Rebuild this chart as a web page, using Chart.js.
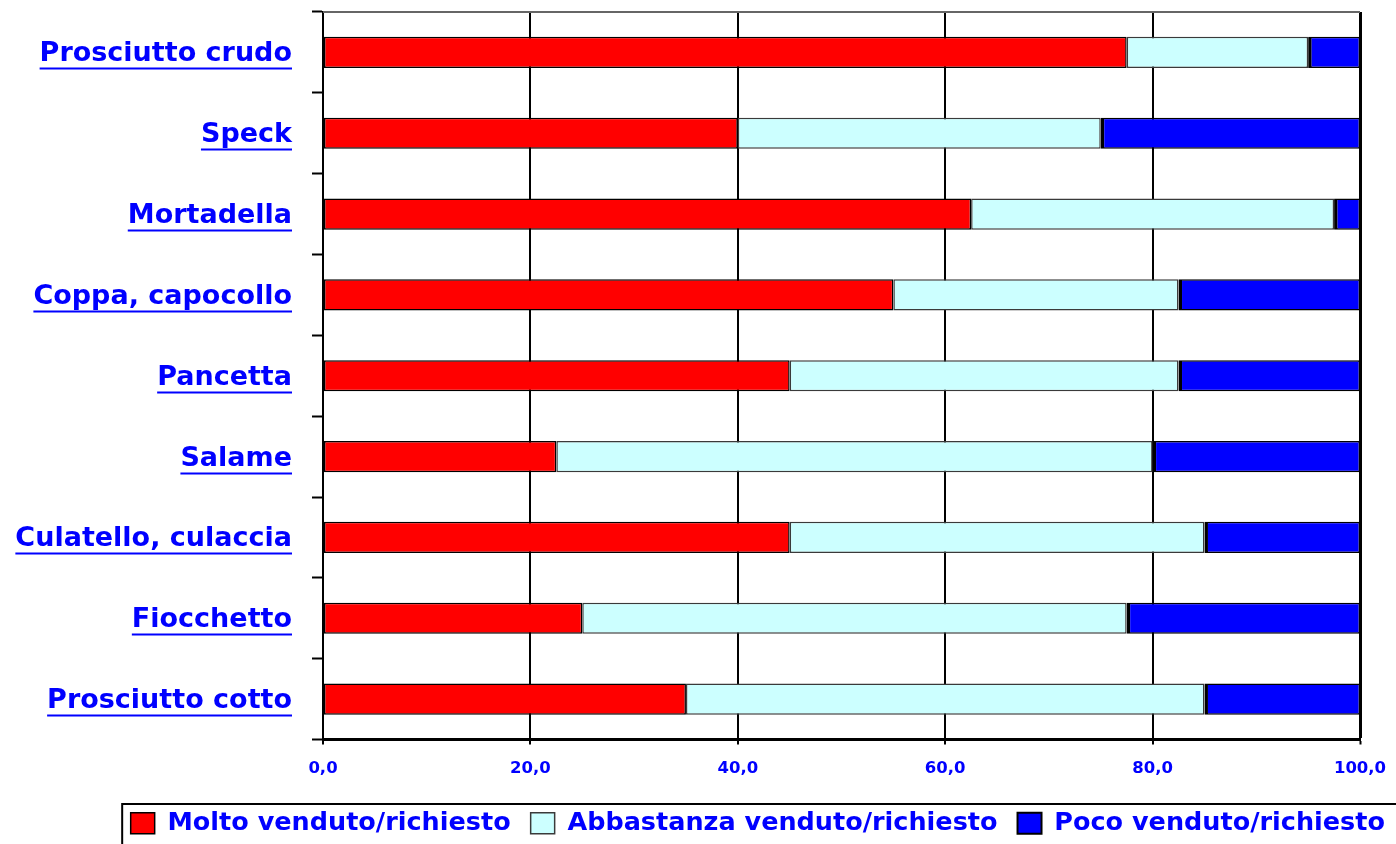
<!DOCTYPE html>
<html>
<head>
<meta charset="utf-8">
<title>Salumi venduti/richiesti</title>
<script src="https://cdn.jsdelivr.net/npm/chart.js@4/dist/chart.umd.min.js"></script>
<style>
  html, body { margin: 0; padding: 0; background: #ffffff; overflow: hidden; }
  #wrap { position: relative; width: 1405px; height: 846px; }
</style>
</head>
<body>
<div id="wrap"><canvas id="chart"></canvas></div>
<script>
// Product categories (top to bottom)
const categories = [
  'Prosciutto crudo', 'Speck', 'Mortadella', 'Coppa, capocollo', 'Pancetta',
  'Salame', 'Culatello, culaccia', 'Fiocchetto', 'Prosciutto cotto'
];
// Share of shops (%) per answer
const molto      = [77.5, 40.0, 62.5, 55.0, 45.0, 22.5, 45.0, 25.0, 35.0];
const abbastanza = [17.5, 35.0, 35.0, 27.5, 37.5, 57.5, 40.0, 52.5, 50.0];
const poco       = [ 5.0, 25.0,  2.5, 17.5, 17.5, 20.0, 15.0, 22.5, 15.0];
const seriesNames = ['Molto venduto/richiesto', 'Abbastanza venduto/richiesto', 'Poco venduto/richiesto'];
const xTickValues = [0, 20, 40, 60, 80, 100];

const BLUE = '#0000ff';
const FONT = "'DejaVu Sans', Verdana, sans-serif";
const LABEL_SHIFT = 2;

// Underlines under the category labels, grey top frame line, legend frame
const decorations = {
  id: 'decorations',
  afterDraw(chart) {
    const ctx = chart.ctx;
    const area = chart.chartArea;
    const y = chart.scales.y;
    const opts = y.options;
    ctx.save();
    ctx.strokeStyle = '#666666';
    ctx.lineWidth = 2;
    ctx.beginPath();
    ctx.moveTo(area.left, area.top);
    ctx.lineTo(area.right, area.top);
    ctx.stroke();

    ctx.font = 'bold ' + opts.ticks.font.size + 'px ' + FONT;
    ctx.strokeStyle = BLUE;
    ctx.lineWidth = 2;
    const rightX = y.right - opts.grid.tickLength - opts.ticks.padding;
    y.ticks.forEach((t, i) => {
      const label = categories[t.value];
      const w = ctx.measureText(label).width;
      const py = Math.round(y.getPixelForTick(i) + LABEL_SHIFT + 14) + 0.5;
      ctx.beginPath();
      ctx.moveTo(rightX - w, py);
      ctx.lineTo(rightX, py);
      ctx.stroke();
    });

    const lg = chart.legend;
    if (lg && lg.legendHitBoxes && lg.legendHitBoxes.length) {
      const hb = lg.legendHitBoxes;
      const left = hb[0].left - 9;
      const top = hb[0].top - 7;
      ctx.strokeStyle = '#000000';
      ctx.lineWidth = 2;
      ctx.strokeRect(left + 0.5, top + 0.5, chart.width + 40, 200);
    }
    ctx.restore();
  }
};

const datasets = [
  { label: seriesNames[0], data: molto,      backgroundColor: '#ff0000', borderColor: '#000000', borderWidth: 1.5 },
  { label: seriesNames[1], data: abbastanza, backgroundColor: '#ccffff', borderColor: '#3a3a3a', borderWidth: 1.5 },
  { label: seriesNames[2], data: poco,       backgroundColor: '#0000ff', borderColor: '#000000',
    borderWidth: { left: 3.5, top: 1.5, right: 1.5, bottom: 1.5 } }
].map(d => Object.assign(d, { barPercentage: 0.385, categoryPercentage: 1.0, borderSkipped: false }));

new Chart(document.getElementById('chart'), {
  type: 'bar',
  data: { labels: categories, datasets },
  options: {
    indexAxis: 'y',
    responsive: true,
    maintainAspectRatio: false,
    devicePixelRatio: 1,
    animation: false,
    layout: { padding: { top: 12, left: 0, right: 0, bottom: 0 } },
    plugins: {
      legend: {
        position: 'bottom',
        align: 'end',
        labels: {
          color: BLUE,
          font: { family: FONT, size: 25.5, weight: 'bold' },
          boxWidth: 24,
          boxHeight: 21,
          padding: 20
        }
      },
      tooltip: { enabled: false }
    },
    scales: {
      x: {
        stacked: true,
        min: 0,
        max: 100,
        afterBuildTicks(s) { s.ticks = xTickValues.map(v => ({ value: v })); },
        afterFit(s) { s.height = 51; s.paddingRight = 45; },
        ticks: {
          color: BLUE,
          font: { family: FONT, size: 16.5, weight: 'bold' },
          padding: 14,
          maxRotation: 0,
          autoSkip: false,
          callback: v => v.toFixed(1).replace('.', ',')
        },
        grid: {
          color: '#000000',
          lineWidth: c => (c.tick && c.tick.value === 100 ? 3 : 2),
          tickColor: '#000000',
          tickLength: 5,
          tickWidth: 2
        },
        border: { display: true, color: '#000000', width: 3 }
      },
      y: {
        stacked: true,
        afterFit(s) { s.width = 323; s.paddingTop = 0; s.paddingBottom = 0; },
        ticks: {
          color: BLUE,
          font: { family: FONT, size: 27, weight: 'bold' },
          padding: 20,
          labelOffset: LABEL_SHIFT,
          autoSkip: false
        },
        grid: {
          offset: true,
          drawOnChartArea: false,
          drawTicks: true,
          tickLength: 11,
          tickColor: '#000000',
          tickWidth: 2
        },
        border: { display: true, color: '#000000', width: 2 }
      }
    }
  },
  plugins: [decorations]
});
</script>
</body>
</html>
